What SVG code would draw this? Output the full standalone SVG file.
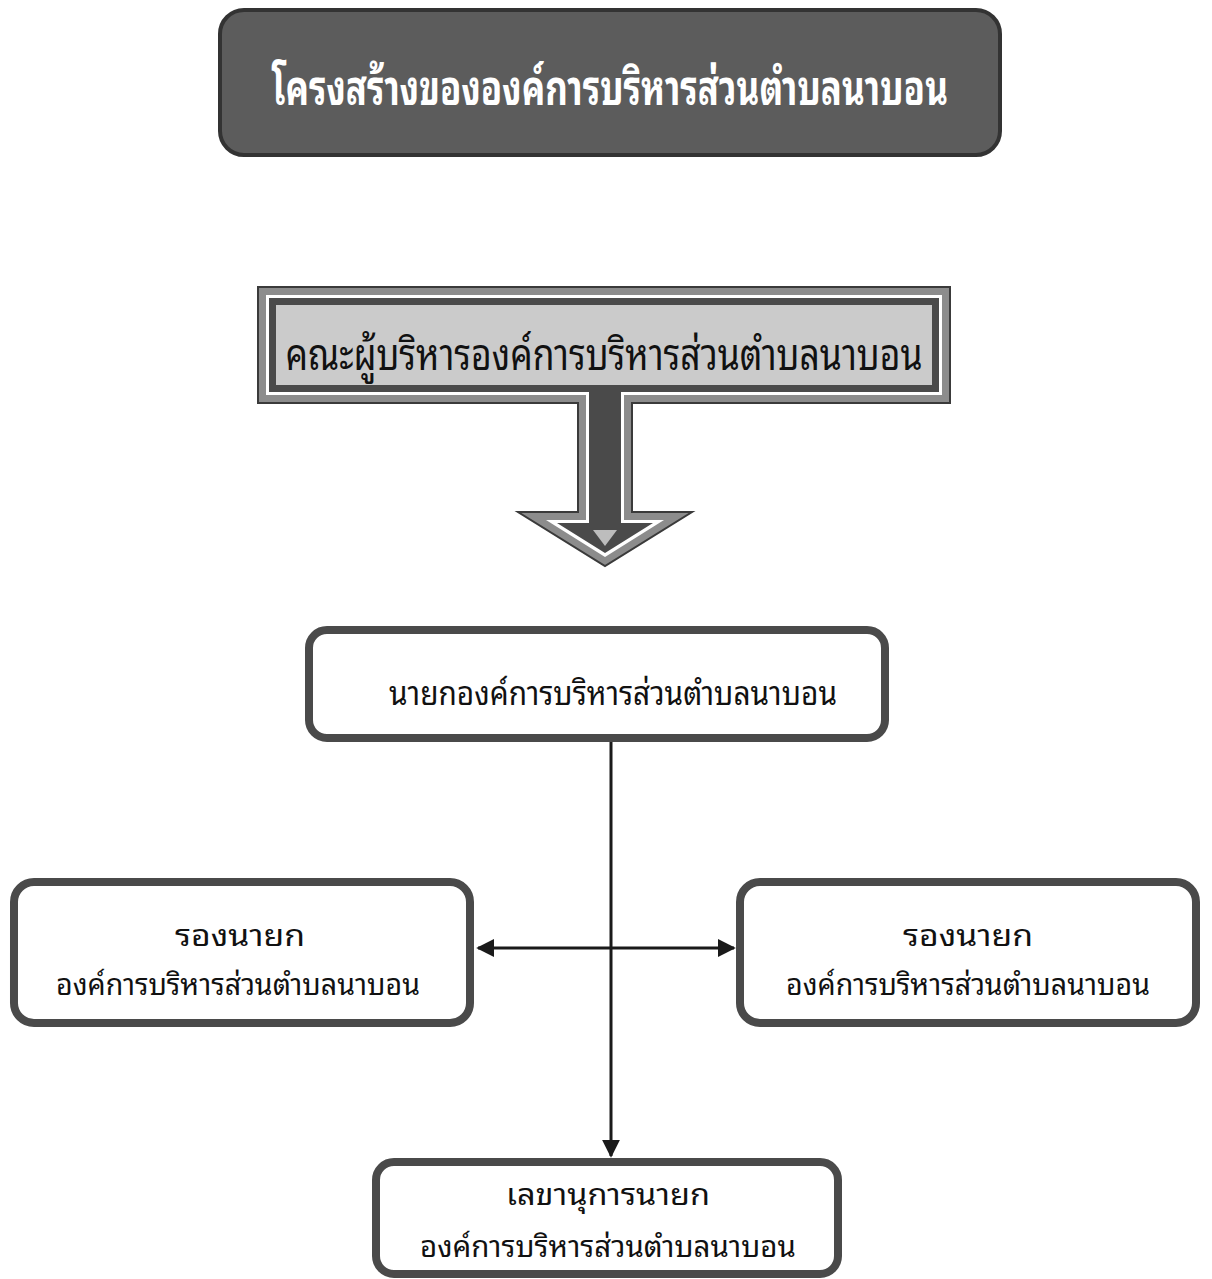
<svg xmlns="http://www.w3.org/2000/svg" width="1212" height="1279" viewBox="0 0 1212 1279">
<defs>
<style>
.th{font-family:"Noto Sans Thai Looped","Noto Serif Thai","Noto Sans Thai","Noto Sans","DejaVu Sans",sans-serif;text-anchor:middle;fill:#111}
.node{fill:#ffffff;stroke:#4a4a4a;stroke-width:8}
.edge{stroke:#1a1a1a;stroke-width:3;fill:none}
</style>
<marker id="ah" viewBox="0 0 10 10" refX="9" refY="5" markerWidth="6" markerHeight="6" orient="auto-start-reverse" markerUnits="strokeWidth">
<path d="M0,0 L10,5 L0,10 Z" fill="#1a1a1a"/>
</marker>
</defs>
<rect width="1212" height="1279" fill="#ffffff"/>

<g id="title">
<rect x="220" y="10" width="780" height="145" rx="24" fill="#5c5c5c" stroke="#333" stroke-width="4"/>
<text class="th" x="610" y="105" font-size="48" font-weight="bold" style="fill:#ffffff" textLength="676" lengthAdjust="spacingAndGlyphs">โครงสร้างขององค์การบริหารส่วนตำบลนาบอน</text>
</g>

<g id="board">
<path d="M258,287 H950 V403 H632 V512 H692 L605,566 L518,512 H578 V403 H258 Z" fill="#8c8c8c" stroke="#3a3a3a" stroke-width="2"/>
<path d="M266,295 H942 V395 H624 V520 H664 L605,557 L546,520 H586 V395 H266 Z" fill="#ffffff"/>
<path d="M269,298 H939 V392 H621 V523 H653 L605,553 L557,523 H589 V392 H269 Z" fill="#4a4a4a"/>
<rect x="276" y="305" width="656" height="80" fill="#cbcbcb"/>
<path d="M593,530 H617 L605,546 Z" fill="#bdbdbd"/>
<text class="th" x="604" y="370" font-size="44" textLength="637" lengthAdjust="spacingAndGlyphs">คณะผู้บริหารองค์การบริหารส่วนตำบลนาบอน</text>
</g>

<g id="connectors">
<line class="edge" x1="611" y1="740" x2="611" y2="1156" marker-end="url(#ah)"/>
<line class="edge" x1="478" y1="948" x2="734" y2="948" marker-start="url(#ah)" marker-end="url(#ah)"/>
</g>

<g id="mayor">
<rect class="node" x="309" y="630" width="576" height="108" rx="18"/>
<text class="th" x="613" y="705" font-size="34" textLength="448" lengthAdjust="spacingAndGlyphs">นายกองค์การบริหารส่วนตำบลนาบอน</text>
</g>

<g id="deputy-left">
<rect class="node" x="14" y="882" width="456" height="141" rx="20"/>
<text class="th" x="240" y="946" font-size="30" textLength="130" lengthAdjust="spacingAndGlyphs">รองนายก</text>
<text class="th" x="238" y="995" font-size="30" textLength="364" lengthAdjust="spacingAndGlyphs">องค์การบริหารส่วนตำบลนาบอน</text>
</g>

<g id="deputy-right">
<rect class="node" x="740" y="882" width="456" height="141" rx="20"/>
<text class="th" x="968" y="946" font-size="30" textLength="130" lengthAdjust="spacingAndGlyphs">รองนายก</text>
<text class="th" x="968" y="995" font-size="30" textLength="364" lengthAdjust="spacingAndGlyphs">องค์การบริหารส่วนตำบลนาบอน</text>
</g>

<g id="secretary">
<rect class="node" x="376" y="1162" width="462" height="112" rx="18"/>
<text class="th" x="608" y="1205" font-size="30" textLength="204" lengthAdjust="spacingAndGlyphs">เลขานุการนายก</text>
<text class="th" x="608" y="1257" font-size="30" textLength="376" lengthAdjust="spacingAndGlyphs">องค์การบริหารส่วนตำบลนาบอน</text>
</g>
</svg>
